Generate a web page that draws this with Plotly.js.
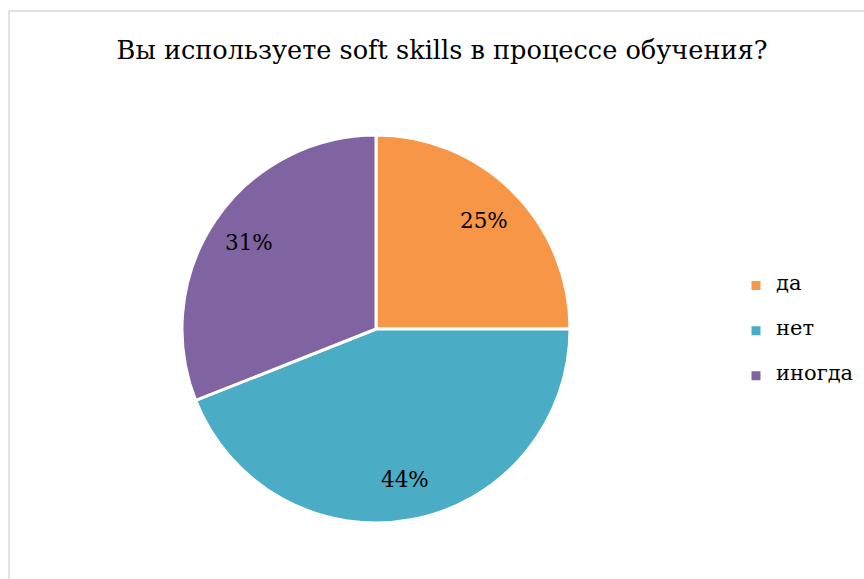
<!DOCTYPE html>
<html><head><meta charset="utf-8">
<script src="https://cdn.plot.ly/plotly-3.0.1.min.js"></script>
<style>html,body{margin:0;padding:0;background:#fff;} #chart{width:864px;height:579px;}</style>
</head><body><div id="chart"></div>
<script>
// ---- data ----
const chartTitle = 'Вы используете soft skills в процессе обучения?';
const categories = ['да', 'нет', 'иногда'];
const shares = [25, 44, 31];
const sliceColors = ['#F79646', '#4BACC6', '#8064A2'];

// ---- geometry (pixels) ----
const W = 864, H = 579;
const cx = 376, cy = 329, R = 194;
const labelR = 0.79 * R;
const serif = 'DejaVu Serif';

const total = shares.reduce((a, b) => a + b, 0);
let cum = 0;
const annotations = shares.map((v, i) => {
  const mid = (cum + v / 2) / total * 2 * Math.PI;
  cum += v;
  const px = cx + labelR * Math.sin(mid);
  const py = cy - labelR * Math.cos(mid);
  return {
    x: px / W, y: 1 - py / H, xref: 'paper', yref: 'paper',
    xanchor: 'center', yanchor: 'middle',
    text: Math.round(v / total * 100) + '%', showarrow: false,
    font: {family: serif, size: 21.5, color: '#000'}
  };
});

const legendLabels = categories.map(c => '<br><span style="font-size:21px">' + c + '</span><br>');

const trace = {
  type: 'pie',
  values: shares,
  labels: legendLabels,
  marker: {colors: sliceColors, line: {color: '#ffffff', width: 3}},
  sort: false,
  direction: 'clockwise',
  rotation: 0,
  textinfo: 'none',
  hoverinfo: 'skip',
  domain: {x: [(cx - R) / W, (cx + R) / W], y: [1 - (cy + R) / H, 1 - (cy - R) / H]}
};

const layout = {
  width: W, height: H,
  margin: {l: 0, r: 0, t: 0, b: 0},
  paper_bgcolor: '#fff',
  font: {family: serif},
  title: {text: chartTitle, font: {family: serif, size: 25.6, color: '#000'},
          x: 442 / W, xanchor: 'center', y: 1 - 50 / H, yanchor: 'middle', yref: 'paper'},
  showlegend: true,
  legend: {x: 736 / W, xanchor: 'left', y: 1 - 331 / H, yanchor: 'middle',
           font: {family: serif, size: 10.8, color: '#000'}, bgcolor: 'rgba(0,0,0,0)'},
  annotations: annotations,
  shapes: [
    {type: 'line', xref: 'paper', yref: 'paper', x0: 9 / W, x1: 9 / W, y0: 0, y1: 1 - 11 / H,
     line: {color: '#d9d9d9', width: 1.5}},
    {type: 'line', xref: 'paper', yref: 'paper', x0: 9 / W, x1: 1, y0: 1 - 11 / H, y1: 1 - 11 / H,
     line: {color: '#d9d9d9', width: 1.5}}
  ]
};

Plotly.newPlot('chart', [trace], layout, {displayModeBar: false, staticPlot: true});
</script>
</body></html>
